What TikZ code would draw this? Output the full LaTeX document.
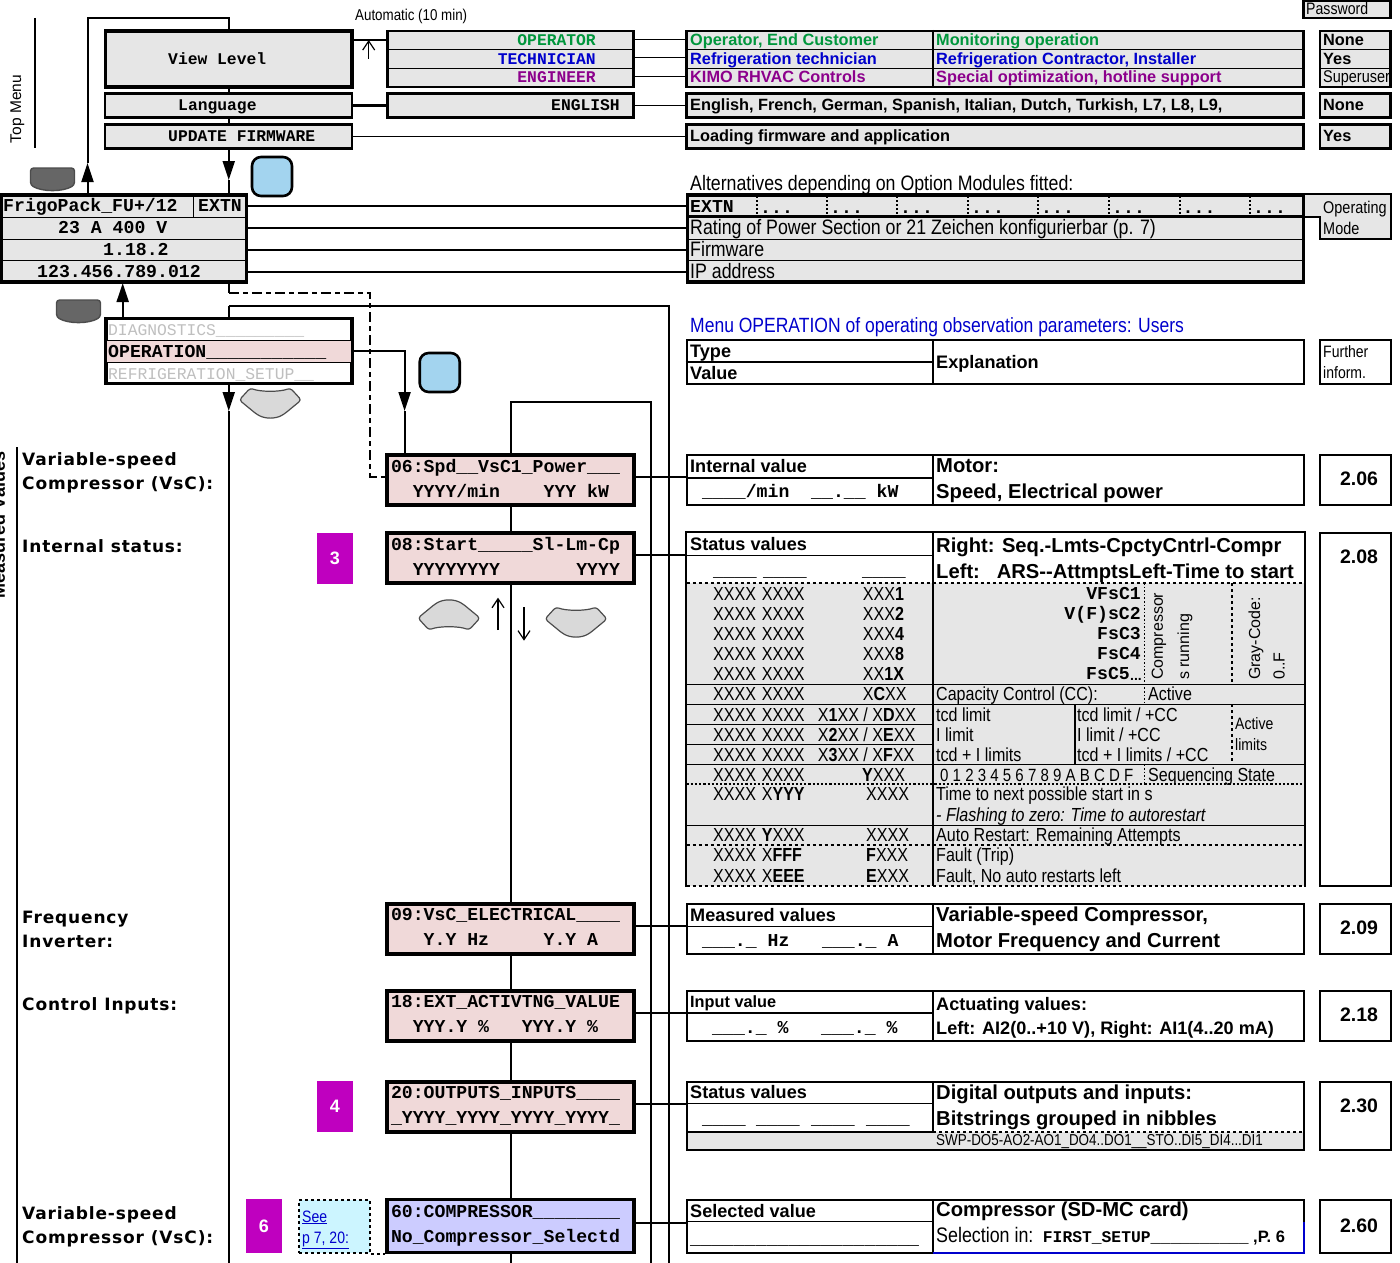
\documentclass[tikz,border=0pt]{standalone}
\usepackage{fontspec}
\setmainfont{Liberation Sans}
\setmonofont{Liberation Mono}
\newfontfamily\narrowfam[FakeStretch=0.85]{Liberation Sans}
\newfontfamily\sidefam[LetterSpace=5]{DejaVu Sans}
\usetikzlibrary{arrows.meta}

\definecolor{cellgray}{RGB}{230,230,230}
\definecolor{lcdpink}{RGB}{240,217,217}
\definecolor{lcdblue}{RGB}{204,204,255}
\definecolor{keyblue}{RGB}{163,212,239}
\definecolor{linkcyan}{RGB}{204,245,255}
\definecolor{tagpurple}{RGB}{191,0,191}
\definecolor{opgreen}{RGB}{0,150,60}
\definecolor{techblue}{RGB}{0,0,204}
\definecolor{engpurple}{RGB}{140,0,140}

\newcommand{\lcdfont}{\fontsize{18.17}{25}\selectfont\ttfamily\bfseries}
\newcommand{\menufont}{\fontsize{16.33}{20}\selectfont\ttfamily\bfseries}
\newcommand{\narrowfont}{\fontsize{18.9}{22}\selectfont\narrowfam}
\newcommand{\headfont}{\fontsize{18.1}{22}\selectfont\bfseries}
\newcommand{\titlefont}{\fontsize{20.2}{24}\selectfont\bfseries}
\newcommand{\rowfont}{\fontsize{16.3}{20}\selectfont\bfseries}
\newcommand{\sidefont}{\fontsize{17}{20}\selectfont\sidefam\bfseries}
\newcommand{\gap}[1]{\hspace*{#1\dimexpr 10.9pt\relax}}

\tikzset{
	wire/.style={line width=2pt},
	heavywire/.style={line width=2.2pt},
	bigtip/.style={-{Triangle[length=19pt,width=12pt]}},
	opentip/.style={line width=1.2pt,-{Straight Barb[length=9pt,width=12pt]}},
	cellline/.style={line width=1.2pt},
	tabline/.style={line width=2pt},
	thickbox/.style={draw,line width=3.5pt,inner sep=0pt},
	rowbox/.style={draw,line width=2.4pt,fill=cellgray,inner sep=0pt},
	lcdbox/.style={thickbox,fill=lcdpink,minimum width=247pt,minimum height=50pt,inner xsep=4pt,text width=239pt,text depth=29pt,align=left,font=\lcdfont},
	tabbox/.style={draw,tabline,fill=white,inner sep=0pt,minimum width=617pt},
	tabopen/.style={tabbox,draw=none},
	passbox/.style={draw,tabline,fill=white,inner sep=0pt,minimum width=70.7pt},
	tagbox/.style={fill=tagpurple,text=white,inner sep=0pt,minimum width=36pt,font=\titlefont\fontsize{18}{20}\selectfont},
	txt/.style={anchor=west,inner sep=0pt,text height=14pt,text depth=2pt},
	rtxt/.style={txt,anchor=east},
	monotxt/.style={txt,font=\lcdfont},
	menutxt/.style={txt,font=\menufont},
	greytxt/.style={txt,font=\fontsize{16.33}{20}\selectfont\ttfamily,text=black!25},
	narrowtxt/.style={txt,font=\narrowfont},
	smalltxt/.style={txt,font=\fontsize{16.5}{20}\selectfont\narrowfam},
	bigtxt/.style={txt,font=\fontsize{20.9}{24}\selectfont\narrowfam},
	headtxt/.style={txt,font=\headfont},
	titletxt/.style={txt,font=\titlefont},
	rowtxt/.style={txt,font=\rowfont},
	sidetxt/.style={txt,font=\sidefont},
	upstxt/.style={anchor=west,rotate=90,inner sep=0pt,font=\fontsize{16}{18}\selectfont},
	softkey/.pic={
		\draw[fill=gray!30,draw=black!70,line width=1.2pt,rounded corners=3pt] (-20,-15) .. controls (-10,-11) and (10,-11) .. (20,-15) -- (31,-3) -- (14,11) .. controls (5,16) and (-5,16) .. (-14,11) -- (-31,-3) -- cycle;
	},
	darkkey/.pic={
		\draw[fill=black!60,draw=black!70,line width=1.4pt,rounded corners=3pt] (-22,-11) -- (22,-11) -- (22,6) .. controls (10,13) and (-10,13) .. (-22,6) -- cycle;
	},
	bluekey/.style={draw,line width=2.6pt,fill=keyblue,rounded corners=9pt,minimum width=40pt,minimum height=39pt,inner sep=0pt}
}

\begin{document}
\begin{tikzpicture}[x=1pt,y=-1pt]
	\useasboundingbox (0,0) rectangle (1400,1263);

	\node[thickbox,fill=cellgray,minimum width=246.5pt,minimum height=56pt] (view) at (228.75,59) {};
	\node[rowbox,minimum width=247pt,minimum height=24pt] (lang) at (228.75,105.5) {};
	\node[rowbox,minimum width=247pt,minimum height=24pt] (upd) at (228.75,136.5) {};
	\node[menutxt] (viewT) at (168,58) {View Level};
	\node[menutxt] (langT) at (178,104.5) {Language};
	\node[menutxt] (updT) at (168,135.5) {UPDATE FIRMWARE};
	\node[txt,rotate=90,anchor=center,font=\fontsize{15.5}{18}\selectfont] (topT) at (15,109) {Top Menu};
	\coordinate (topRuleA) at (35,18);
	\coordinate (topRuleB) at (35,148);
	\draw[cellline] (topRuleA) -- (topRuleB);
	\node[txt,font=\fontsize{15.7}{18}\selectfont\narrowfam] (autoT) at (355,15) {Automatic (10 min)};

	\node[rowbox,minimum width=246pt,minimum height=56pt] (levels) at (510.5,59) {};
	\node[rowbox,minimum width=246pt,minimum height=24pt] (english) at (510.5,105.5) {};
	\draw[cellline] (387,49.3) -- (634,49.3) (387,68.3) -- (634,68.3);
	\node[rtxt,font=\menufont,text=opgreen] (levA) at (596,40) {OPERATOR};
	\node[rtxt,font=\menufont,text=techblue] (levB) at (596,58) {TECHNICIAN};
	\node[rtxt,font=\menufont,text=engpurple] (levC) at (596,76.5) {ENGINEER};
	\node[rtxt,font=\menufont] (levD) at (620,104.5) {ENGLISH};

	\node[rowbox,minimum width=617pt,minimum height=56pt] (descr) at (995,59) {};
	\node[rowbox,minimum width=617pt,minimum height=24pt] (descrB) at (995,105.5) {};
	\node[rowbox,minimum width=617pt,minimum height=24pt] (descrC) at (995,136.5) {};
	\draw[cellline] (687,49.3) -- (1303,49.3) (687,68.3) -- (1303,68.3);
	\draw[tabline] (descr.north -| 933,0) -- (descr.south -| 933,0);
	\node[rowtxt,text=opgreen] (dA) at (690,40) {Operator, End Customer};
	\node[rowtxt,text=techblue] (dB) at (690,58) {Refrigeration technician};
	\node[rowtxt,text=engpurple] (dC) at (690,76.5) {KIMO RHVAC Controls};
	\node[rowtxt,text=opgreen] (dD) at (936,40) {Monitoring operation};
	\node[rowtxt,text=techblue] (dE) at (936,58) {Refrigeration Contractor, Installer};
	\node[rowtxt,text=engpurple] (dF) at (936,76.5) {Special optimization, hotline support};
	\node[rowtxt] (dG) at (690,104.5) {English, French, German, Spanish, Italian, Dutch, Turkish, L7, L8, L9,};
	\node[rowtxt] (dH) at (690,135.5) {Loading firmware and application};

	\node[rowbox,minimum width=87.2pt,minimum height=17.5pt] (pwd) at (1347,9.5) {};
	\node[rowbox,minimum width=70.7pt,minimum height=56pt] (pwdA) at (1355.3,59) {};
	\node[rowbox,minimum width=70.7pt,minimum height=24pt] (pwdB) at (1355.3,105.5) {};
	\node[rowbox,minimum width=70.7pt,minimum height=24pt] (pwdC) at (1355.3,136.5) {};
	\draw[cellline] (1320,49.3) -- (1391,49.3) (1320,68.3) -- (1391,68.3);
	\node[txt,font=\fontsize{16.6}{18}\selectfont\narrowfam] (pwdT) at (1306,8.5) {Password};
	\node[rowtxt] (pA) at (1323,40) {None};
	\node[rowtxt] (pB) at (1323,58) {Yes};
	\node[txt,font=\fontsize{17}{20}\selectfont\narrowfam] (pC) at (1323,76.5) {Superuser};
	\node[rowtxt] (pD) at (1323,104.5) {None};
	\node[rowtxt] (pE) at (1323,135.5) {Yes};

	\node[thickbox,fill=cellgray,minimum width=245pt,minimum height=87pt] (frigo) at (124.2,238.5) {};
	\draw[cellline] (2,217.6) -- (246,217.6) (2,239.3) -- (246,239.3) (2,260.3) -- (246,260.3) (193.3,195) -- (193.3,217.6);
	\node[monotxt] (fA) at (3,205.5) {FrigoPack\_FU+/12};
	\node[monotxt] (fB) at (198,205.5) {EXTN};
	\node[monotxt] (fC) at (58,227.5) {23 A 400 V};
	\node[monotxt] (fD) at (103,249.5) {1.18.2};
	\node[monotxt] (fE) at (37,271.5) {123.456.789.012};

	\node[thickbox,fill=cellgray,minimum width=616pt,minimum height=87pt] (info) at (995.7,238.5) {};
	\draw[line width=3pt] (688,216.7) -- (1303,216.7);
	\draw[cellline] (688,239.3) -- (1303,239.3) (688,260.3) -- (1303,260.3);
	\node[bigtxt] (altT) at (690,184) {Alternatives depending on Option Modules fitted:};
	\node[monotxt] (iA) at (690,206) {EXTN};
	\foreach \x in {757,827,897,968,1038,1109,1179.5,1250} {
		\draw[line width=2pt,dotted] (\x,196) -- (\x,216);
		\node[monotxt] (dots\x) at (\x+3,207) {...};
	}
	\node[bigtxt] (iB) at (690,228) {Rating of Power Section or 21 Zeichen konfigurierbar (p. 7)};
	\node[bigtxt] (iC) at (690,250) {Firmware};
	\node[bigtxt] (iD) at (690,272) {IP address};
	\fill[cellgray] (1305,194) -- (1390.7,194) -- (1390.7,239) -- (1320,239) -- (1320,217) -- (1305,217) -- cycle;
	\draw[tabline] (1305,194) -- (1390.7,194) -- (1390.7,239) -- (1320,239) -- (1320,217) -- (1305,217);
	\node[txt,font=\fontsize{17}{20}\selectfont\narrowfam] (opA) at (1323,207) {Operating};
	\node[txt,font=\fontsize{17}{20}\selectfont\narrowfam] (opB) at (1323,228) {Mode};

	\coordinate (upTip) at (87.5,163);
	\coordinate (topTurn) at (228.75,18);
	\coordinate (downTip) at (228.75,180);
	\coordinate (backTip) at (122.7,283);
	\draw[wire,bigtip] (frigo.north -| upTip) -- (upTip);
	\draw[wire] (upTip) |- (topTurn) -- (view.north);
	\draw[wire] (view.south) -- (lang.north);
	\draw[wire] (lang.south) -- (upd.north);
	\draw[wire,bigtip] (upd.south) -- (downTip);
	\draw[wire] (downTip) -- (frigo.north -| downTip);
	\draw[heavywire] (view.east |- 0,40) -- (levels.west |- 0,40);
	\draw[heavywire] (lang.east) -- (english.west);
	\coordinate (autoTail) at (368.7,58.7);
	\coordinate (autoHead) at (368.7,40);
	\draw[opentip] (autoTail) -- (autoHead);
	\foreach \y in {40,58,77,105} {
		\draw[line width=1pt] (levels.east |- 0,\y) -- (descr.west |- 0,\y);
	}
	\draw[line width=1pt] (upd.east) -- (descrC.west);
	\foreach \y in {206,228,250,272} {
		\draw[heavywire] (frigo.east |- 0,\y) -- (info.west |- 0,\y);
	}

	\node[thickbox,fill=white,minimum width=246pt,minimum height=65pt] (menu) at (228.75,351.2) {};
	\fill[lcdpink] (107,340.3) rectangle (350.5,362.3);
	\draw[cellline] (106,340.3) -- (352,340.3) (106,362.3) -- (352,362.3);
	\node[greytxt] (mA) at (108,329) {DIAGNOSTICS\_\_\_\_\_\_\_\_\_};
	\node[monotxt] (mB) at (108,351) {OPERATION\_\_\_\_\_\_\_\_\_\_\_};
	\node[greytxt] (mC) at (108,373) {REFRIGERATION\_SETUP\_\_};

	\node[lcdbox] (lcd06) at (510.5,480) {06:Spd\_\_VsC1\_Power\_\_\_\\\gap{2}YYYY/min\gap{4}YYY\gap{1}kW};
	\node[lcdbox] (lcd08) at (510.5,558) {08:Start\_\_\_\_\_Sl-Lm-Cp\\\gap{2}YYYYYYYY\gap{7}YYYY};
	\node[lcdbox] (lcd09) at (510.5,929) {09:VsC\_ELECTRICAL\_\_\_\_\\\gap{3}Y.Y\gap{1}Hz\gap{5}Y.Y\gap{1}A};
	\node[lcdbox] (lcd18) at (510.5,1016) {18:EXT\_ACTIVTNG\_VALUE\\\gap{2}YYY.Y\gap{1}\%\gap{3}YYY.Y\gap{1}\%};
	\node[lcdbox] (lcd20) at (510.5,1107) {20:OUTPUTS\_INPUTS\_\_\_\_\\\_YYYY\_YYYY\_YYYY\_YYYY\_};
	\node[lcdbox,fill=lcdblue,minimum height=53pt] (lcd60) at (510.5,1226) {60:COMPRESSOR\_\_\_\_\_\_\_\_\\No\_Compressor\_Selectd};

	\coordinate (backTop) at (228.75,305.7);
	\coordinate (downMain) at (228.75,411);
	\coordinate (mainEnd) at (228.75,1263);
	\coordinate (outerEnd) at (669,1263);
	\coordinate (innerTurn) at (650.5,402);
	\coordinate (innerEnd) at (650.5,1263);
	\coordinate (dashTurn) at (370,292.5);
	\coordinate (enterTip) at (404.6,411);
	\coordinate (ruleTop) at (17,447);
	\coordinate (ruleEnd) at (17,1263);
	\coordinate (stackEnd) at (510.5,1263);
	\draw[wire,bigtip] (menu.north -| backTip) -- (backTip);
	\draw[wire] (backTop) -- (menu.north);
	\draw[wire] (backTop) -| (outerEnd);
	\draw[wire,bigtip] (menu.south) -- (downMain);
	\draw[wire] (downMain) -- (mainEnd);
	\draw[wire] (frigo.south -| menu.south) -- (menu.south |- dashTurn);
	\draw[wire,dash pattern=on 10pt off 4pt on 5pt off 4pt] (menu.south |- dashTurn) -- (dashTurn) |- ([yshift=3.5pt]lcd06.west);
	\draw[wire,bigtip] (menu.east) -| (enterTip);
	\draw[wire] (enterTip) -- (lcd06.north -| enterTip);
	\draw[wire] (lcd06.north) |- (innerTurn) -- (innerEnd);
	\draw[wire] (ruleTop) -- (ruleEnd);
	\draw[wire] (lcd06.south) -- (lcd08.north);
	\draw[wire] (lcd08.south) -- (lcd09.north);
	\draw[wire] (lcd09.south) -- (lcd18.north);
	\draw[wire] (lcd18.south) -- (lcd20.north);
	\draw[wire] (lcd20.south) -- (lcd60.north);
	\draw[wire] (lcd60.south) -- (stackEnd);

	\pic (keyExit) at (52.5,179) {darkkey};
	\pic (keyBack) at (78.5,311) {darkkey};
	\node[bluekey] (keyEnter) at (272,176.5) {};
	\node[bluekey] (keyEnterB) at (439.7,372.5) {};
	\pic (keyDown) at (270.3,403) {softkey};
	\pic[yscale=-1] (keyPrev) at (449,615) {softkey};
	\pic (keyNext) at (576,622) {softkey};
	\coordinate (upTail) at (498,630);
	\coordinate (upHead) at (498,597.7);
	\coordinate (dnTail) at (524,607);
	\coordinate (dnHead) at (524,640.7);
	\draw[opentip] (upTail) -- (upHead);
	\draw[opentip] (dnTail) -- (dnHead);

	\node[txt,rotate=90,anchor=center,font=\fontsize{18}{20}\selectfont\bfseries] (measT) at (-1,525) {Measured Values};
	\node[sidetxt] (sA) at (22,459) {Variable-speed};
	\node[sidetxt] (sB) at (22,483) {Compressor (VsC):};
	\node[sidetxt] (sC) at (22,546) {Internal status:};
	\node[sidetxt] (sD) at (22,917) {Frequency};
	\node[sidetxt] (sE) at (22,941) {Inverter:};
	\node[sidetxt] (sF) at (22,1004) {Control Inputs:};
	\node[sidetxt] (sG) at (22,1213) {Variable-speed};
	\node[sidetxt] (sH) at (22,1237) {Compressor (VsC):};

	\node[tagbox,minimum height=51pt] (tag3) at (335,558.5) {3};
	\node[tagbox,minimum height=51pt] (tag4) at (335,1106.5) {4};
	\node[tagbox,minimum height=54pt] (tag6) at (264,1226) {6};
	\node[draw,wire,dashed,fill=linkcyan,inner sep=0pt,minimum width=71pt,minimum height=53pt] (seeBox) at (334.5,1226.5) {};
	\node[txt,text=techblue,font=\fontsize{16.5}{20}\selectfont\narrowfam] (seeA) at (302,1216) {\underline{See}};
	\node[txt,text=techblue,font=\fontsize{16.5}{20}\selectfont\narrowfam] (seeB) at (302,1237) {\underline{p 7, 20:}};
	\draw[wire,dashed] (seeBox.south east) -- (seeBox.south east -| lcd60.west);

	\node[txt,text=techblue,font=\fontsize{20.6}{24}\selectfont\narrowfam] (menuT) at (690,326) {Menu OPERATION of operating observation parameters: Users};
	\node[tabbox,minimum height=44pt] (tabHead) at (995,362) {};
	\draw[cellline] (tabHead.west) -- (tabHead.center -| 933,0);
	\draw[tabline] (tabHead.north -| 933,0) -- (tabHead.south -| 933,0);
	\node[headtxt] (hA) at (690,351) {Type};
	\node[headtxt] (hB) at (690,373) {Value};
	\node[headtxt] (hC) at (936,362) {Explanation};
	\node[passbox,minimum height=44pt] (furth) at (1355.3,362) {};
	\node[smalltxt] (fuA) at (1323,351) {Further};
	\node[smalltxt] (fuB) at (1323,372) {inform.};

	\foreach \n/\v/\s/\t/\h/\b/\p in {06/2.06/tabbox/454.5/478/505/479,08/2.08/tabopen/533/555.3/886/557,09/2.09/tabbox/904/926.7/954/928,18/2.18/tabbox/991/1013/1040.7/1015,20/2.30/tabbox/1082.3/1103.7/1150/1106,60/2.60/tabbox/1200/1221.3/1253/1226} {
		\node[\s,minimum height={\b-\t}] (tab\n) at (995,{(\t+\b)/2}) {};
		\node[passbox,minimum height={\b-\t}] (pass\n) at (1355.3,{(\t+\b)/2}) {};
		\node[font=\fontsize{19.5}{22}\selectfont\bfseries,inner sep=0pt] (passT\n) at (1359,\p) {\v};
		\draw[wire] ([yshift=3.5pt]lcd\n.east) -- ([yshift=3.5pt]lcd\n.east -| tab\n.west);
		\draw[cellline] (tab\n.west |- 0,\h) -- (933,\h);
		\draw[tabline] (933,\t) -- (933,\b);
	}

	\node[headtxt] (r06a) at (690,466) {Internal value};
	\node[monotxt] (r06b) at (702,491) {\_\_\_\_/min~~\_\_.\_\_~kW};
	\node[titletxt] (r06c) at (936,466) {Motor:};
	\node[titletxt] (r06d) at (936,492) {Speed, Electrical power};

	\fill[cellgray] (tab08.west |- 0,583) rectangle (tab08.east |- 0,886);
	\draw[tabline] (tab08.south west) -- (tab08.north west) -- (tab08.north east) -- (tab08.south east);
	\draw[tabline] (933,533) -- (933,886);
	\draw[cellline] (686.5,555.3) -- (933,555.3);
	\foreach \y in {684.3,704.3,764.3,825.3} {
		\draw[cellline] (686.5,\y) -- (1303.5,\y);
	}
	\foreach \y in {724.3,744.3} {
		\draw[cellline] (686.5,\y) -- (933,\y);
	}
	\draw[cellline] (1075,704.3) -- (1075,764.3);
	\foreach \y in {583,845,886} {
		\draw[tabline,dashed] (686.5,\y) -- (1303.5,\y);
	}
	\draw[line width=2.2pt,dotted] (686.5,784.3) -- (1303.5,784.3);
	\draw[line width=1.6pt,dotted] (1144.6,583) -- (1144.6,704) (1144.6,764.3) -- (1144.6,784);
	\draw[line width=1.6pt,dashed] (1232,583) -- (1232,684) (1232,704.3) -- (1232,764.3);
	\node[headtxt] (r08a) at (690,544) {Status values};
	\node[titletxt] (r08b) at (936,546.7) {Right: Seq.-Lmts-CpctyCntrl-Compr};
	\node[titletxt] (r08c) at (936,572.3) {Left:~~~ARS-{}-AttmptsLeft-Time to start};
	\foreach \x in {713,763,862} {
		\node[monotxt] (ul\x) at (\x,570) {\_\_\_\_};
	}
	\foreach \y/\a/\cx/\c in {
		594/XXXX\hspace{1.3pt} XXXX/862.7/XXX\textbf{1},
		614/XXXX\hspace{1.3pt} XXXX/862.7/XXX\textbf{2},
		634/XXXX\hspace{1.3pt} XXXX/862.7/XXX\textbf{4},
		654/XXXX\hspace{1.3pt} XXXX/862.7/XXX\textbf{8},
		674/XXXX\hspace{1.3pt} XXXX/862.7/XX\textbf{1X},
		694/XXXX\hspace{1.3pt} XXXX/862.7/X\textbf{C}XX,
		715/XXXX\hspace{1.3pt} XXXX/817.7/{X\textbf{1}XX / X\textbf{D}XX},
		735/XXXX\hspace{1.3pt} XXXX/817.7/{X\textbf{2}XX / X\textbf{E}XX},
		755/XXXX\hspace{1.3pt} XXXX/817.7/{X\textbf{3}XX / X\textbf{F}XX},
		775/XXXX\hspace{1.3pt} XXXX/862/\textbf{Y}XXX,
		794/XXXX\hspace{1.3pt} X\textbf{YYY}/866/XXXX,
		835/XXXX\hspace{1.3pt} \textbf{Y}XXX/866/XXXX,
		855/XXXX\hspace{1.3pt} X\textbf{FFF}/866/\textbf{F}XXX,
		876/XXXX\hspace{1.3pt} X\textbf{EEE}/866/\textbf{E}XXX} {
		\node[narrowtxt] (st\y) at (713,\y) {\a};
		\node[narrowtxt] (sv\y) at (\cx,\y) {\c};
	}
	\foreach \y/\x/\c in {593/1141/VFsC1,613/1141/V(F)sC2,633/1141/FsC3,653/1141/FsC4,673/1130/FsC5} {
		\node[rtxt,font=\lcdfont] (cmp\y) at (\x,\y) {\c};
	}
	\node[narrowtxt,font=\bfseries\fontsize{14}{16}\selectfont] (cmpDots) at (1130,674) {...};
	\node[upstxt] (upA) at (1159,680) {Compressor};
	\node[upstxt] (upB) at (1185,680) {s running};
	\node[upstxt] (upC) at (1256,680) {Gray-Code:};
	\node[upstxt] (upD) at (1279,680) {0..F};
	\foreach \n/\x/\y/\t in {
		capA/936/694/{Capacity Control (CC):},
		capB/1148/694/Active,
		limA/936/715/tcd limit,
		limB/936/735/I limit,
		limC/936/755/tcd + I limits,
		limD/1077/715/{tcd limit / +CC},
		limE/1077/735/{I limit / +CC},
		limF/1077/755/{tcd + I limits / +CC},
		seqB/1148/775/Sequencing State,
		timA/936/794/Time to next possible start in s,
		timB/936/815/\textit{- Flashing to zero: Time to autorestart},
		ausA/936/835/Auto Restart: Remaining Attempts,
		fauA/936/855/Fault (Trip),
		fauB/936/876/{Fault, No auto restarts left}} {
		\node[narrowtxt] (\n) at (\x,\y) {\t};
	}
	\node[txt,font=\fontsize{17.7}{20}\selectfont\narrowfam] (seqA) at (940,775) {0 1 2 3 4 5 6 7 8 9 A B C D F};
	\node[smalltxt] (actA) at (1235,723) {Active};
	\node[smalltxt] (actB) at (1235,744) {limits};

	\node[headtxt] (r09a) at (690,915) {Measured values};
	\node[monotxt] (r09b) at (702,940) {\_\_\_.\_~Hz~~~\_\_\_.\_~A};
	\node[titletxt] (r09c) at (936,915) {Variable-speed Compressor,};
	\node[titletxt] (r09d) at (936,941) {Motor Frequency and Current};

	\node[rowtxt] (r18a) at (690,1001) {Input value};
	\node[monotxt] (r18b) at (712,1027) {\_\_\_.\_~\%~~~\_\_\_.\_~\%};
	\node[headtxt] (r18c) at (936,1004) {Actuating values:};
	\node[headtxt] (r18d) at (936,1028) {Left: AI2(0..+10 V), Right: AI1(4..20 mA)};

	\fill[cellgray] (688,1132) rectangle (1302.5,1149);
	\draw[tabline] (686.5,1132) -- (933,1132);
	\draw[tabline,dashed] (933,1132) -- (1303.5,1132);
	\node[headtxt] (r20a) at (690,1092) {Status values};
	\foreach \x in {702,756,811,866} {
		\node[monotxt] (nib\x) at (\x,1118) {\_\_\_\_};
	}
	\node[titletxt] (r20c) at (936,1093) {Digital outputs and inputs:};
	\node[titletxt] (r20d) at (936,1119) {Bitstrings grouped in nibbles};
	\node[txt,font=\fontsize{15.8}{20}\selectfont\narrowfam] (r20e) at (936,1139.5) {SWP-DO5-AO2-AO1\_DO4..DO1\_\_STO..DI5\_DI4...DI1};

	\node[headtxt] (r60a) at (690,1211) {Selected value};
	\node[monotxt] (r60b) at (690,1238) {\_\_\_\_\_\_\_\_\_\_\_\_\_\_\_\_\_\_\_\_\_};
	\node[titletxt] (r60c) at (936,1210) {Compressor (SD-MC card)};
	\node[txt,font=\fontsize{21}{24}\selectfont\narrowfam] (r60d) at (936,1236) {Selection in:};
	\node[menutxt] (r60e) at (1042.7,1236) {FIRST\_SETUP\_\_\_\_\_\_\_\_\_\_};
	\node[txt,font=\fontsize{16.5}{18}\selectfont\bfseries] (r60f) at (1253,1236) {,P. 6};
	\draw[tabline,draw=techblue] (933,1253) -- (1303.5,1253) -- (1303.5,1222);
\end{tikzpicture}
\end{document}
